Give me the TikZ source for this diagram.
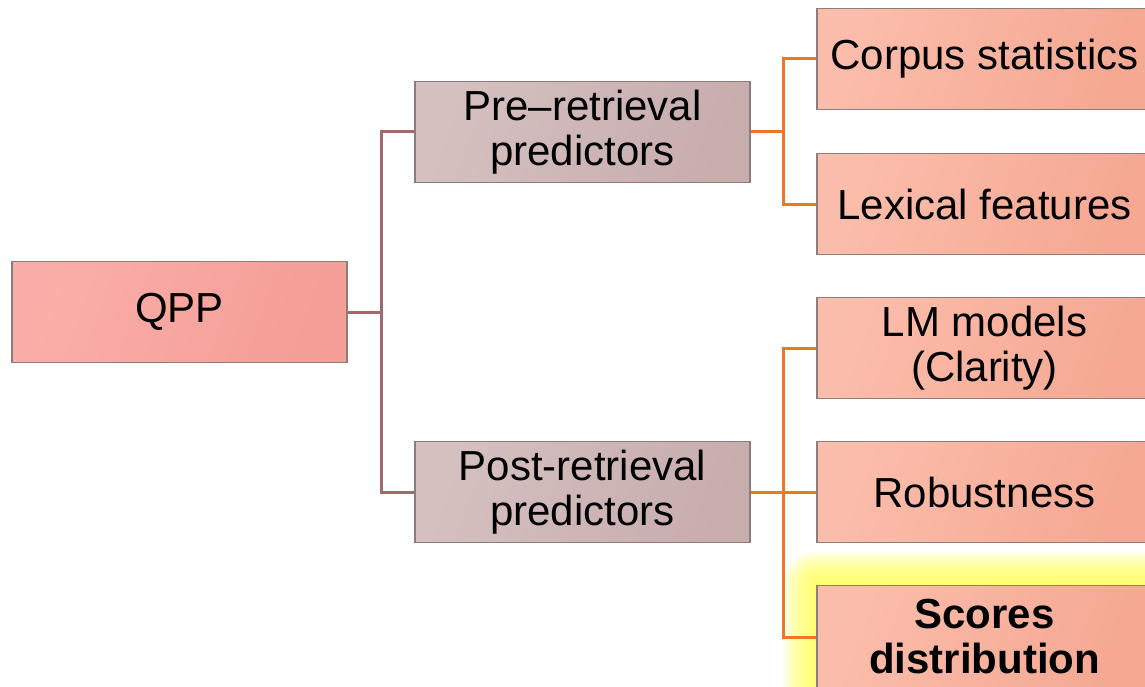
\documentclass[tikz,border=0pt]{standalone}
\usepackage{fontspec}
\setmainfont{Liberation Sans}
\definecolor{rootA}{HTML}{FBAEA9}
\definecolor{rootB}{HTML}{F39E96}
\definecolor{midA}{HTML}{D5C0C0}
\definecolor{midB}{HTML}{C8ADAD}
\definecolor{leafA}{HTML}{FBBDAB}
\definecolor{leafB}{HTML}{F5A892}
\definecolor{edgeGray}{HTML}{8C7C7C}
\definecolor{brownLine}{HTML}{A06A6A}
\definecolor{orangeLine}{HTML}{EE7722}
\definecolor{glowYellow}{HTML}{FFFF50}
\tikzset{
  box/.style={draw=edgeGray, line width=1.3pt, rectangle, minimum width=335pt,
    minimum height=101pt, inner sep=0pt, align=center,
    font=\fontsize{42}{45}\selectfont},
  rootbox/.style={box, left color=rootA, right color=rootB, shading angle=70},
  midbox/.style={box, left color=midA, right color=midB, shading angle=70},
  leafbox/.style={box, left color=leafA, right color=leafB, shading angle=70},
  brownlink/.style={draw=brownLine, line width=3pt},
  orangelink/.style={draw=orangeLine, line width=3pt},
}
\begin{document}
\begin{tikzpicture}[x=1pt, y=-1pt]
\useasboundingbox (0,0) rectangle (1145,687);
\clip (0,0) rectangle (1145,687);
\fill[white] (0,0) rectangle (1145,687);

% soft yellow halo behind the last leaf
\foreach \r in {2,4,...,34}{
  \fill[glowYellow, opacity=0.085, rounded corners=\r pt]
    (817-\r,585-\r) rectangle (1152+\r,690+\r);
}

% boxes
\node[rootbox] (qpp)  at (179.5,312) {QPP};
\node[midbox]  (pre)  at (582.5,132) {Pre–retrieval\\predictors};
\node[midbox]  (post) at (582.5,492) {Post-retrieval\\predictors};
\node[leafbox] (corp) at (984.5,59)  {Corpus statistics};
\node[leafbox] (lex)  at (984.5,204) {Lexical features};
\node[leafbox] (lm)   at (984.5,348) {LM models\\(Clarity)};
\node[leafbox] (rob)  at (984.5,492) {Robustness};
\node[leafbox, minimum height=103pt] (scd) at (984.5,637)
  {\bfseries Scores\\\bfseries distribution};

% branch junctions
\coordinate (j0) at (381,312);
\coordinate (j1) at (783,132);
\coordinate (j2) at (783,492);

% connectors
\draw[brownlink] (qpp.east) -- (j0);
\draw[brownlink] (j0) |- (pre.west);
\draw[brownlink] (j0) |- (post.west);
\draw[orangelink] (pre.east) -- (j1);
\draw[orangelink] (j1) |- (corp.west);
\draw[orangelink] (j1) |- (lex.west);
\draw[orangelink] (post.east) -- (rob.west);
\draw[orangelink] (j2) |- (lm.west);
\draw[orangelink] (j2) |- (scd.west);
\end{tikzpicture}
\end{document}
